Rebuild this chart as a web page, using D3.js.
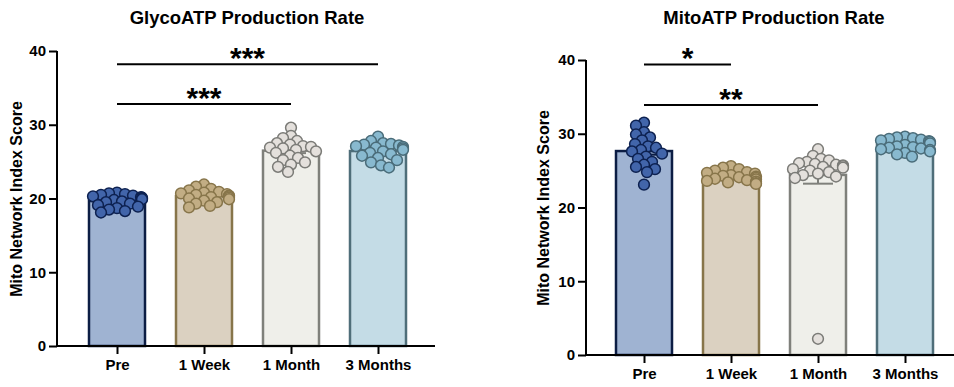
<!DOCTYPE html>
<html lang="en">
	<head>
		<meta charset="utf-8">
		<title>GlycoATP / MitoATP Production Rate</title>
		<style>
			body { margin: 0; background: #fff; }
			svg text { font-family: "Liberation Sans", Arial, Helvetica, sans-serif; font-weight: bold; fill: #000; }
		</style>
	</head>
	<body>
		<div id="chart"></div>
		<script src="https://d3js.org/d3.v7.js"></script>
		<script>

			var groups = ["Pre", "1 Week", "1 Month", "3 Months"]
			var yTicks = [0, 10, 20, 30, 40]

			// GlycoATP panel, one array per group
			var glycoPre = [20.8,20.7,20.6,20.5,20.4,20.3,20.2,20.1,20.0,19.9,19.8,19.6,19.5,19.3,19.1,18.9,18.7,18.5,18.3,18.1]
			var glycoWeek = [21.9,21.6,21.3,21.1,20.9,20.8,20.7,20.6,20.5,20.4,20.3,20.2,20.1,20.0,19.9,19.7,19.5,19.3,19.0,18.8]
			var glycoMonth = [29.6,28.5,28.2,27.8,27.5,27.3,27.1,27.0,26.9,26.8,26.6,26.4,26.2,25.8,25.5,25.2,24.9,24.6,24.3,23.6]
			var glyco3Month = [28.4,27.8,27.5,27.4,27.3,27.2,27.1,27.0,26.9,26.8,26.6,26.4,26.2,26.0,25.8,25.5,25.2,24.9,24.5,24.2]

			// MitoATP panel
			var mitoPre = [31.5,31.1,30.2,29.9,29.5,29.1,28.6,28.3,28.1,27.8,27.6,27.3,26.9,26.6,26.2,25.8,25.5,25.2,24.8,23.1]
			var mitoWeek = [25.6,25.4,25.2,25.0,24.8,24.7,24.6,24.4,24.3,24.2,24.1,24.0,23.9,23.8,23.7,23.6,23.5,23.4,23.3,23.2]
			var mitoMonth = [27.9,27.0,26.6,26.4,26.2,26.0,25.9,25.8,25.7,25.6,25.5,25.4,25.2,25.0,24.8,24.6,24.4,24.2,24.0,2.2]
			var mito3Month = [29.6,29.5,29.4,29.3,29.2,29.1,29.0,28.9,28.7,28.5,28.3,28.2,28.1,28.0,27.9,27.8,27.6,27.4,27.2,26.9]

			// significance brackets: from group, to group, height (axis units), label
			var glycoSig = [["Pre", "3 Months", 38.2, "***"], ["Pre", "1 Month", 32.8, "***"]]
			var mitoSig = [["Pre", "1 Week", 39.4, "*"], ["Pre", "1 Month", 33.9, "**"]]

			var barFill = ["#9fb3d2", "#dbd1c1", "#efefea", "#c4dce6"]
			var barStroke = ["#0c1d44", "#87754a", "#7f807b", "#4f6e79"]
			var dotFill = ["#4265aa", "#c2ad84", "#e4e0dc", "#88b9cf"]
			var dotStroke = ["#0d2150", "#87754a", "#7b7b77", "#4a6c79"]

			var W = 954, H = 387

			var svg = d3.select("#chart").append("svg")
				.attr("width", W).attr("height", H)

			// simple swarm so dots sit side by side like the prism scatter
			function swarm(values, y, r, maxOff) {
				var placed = []
				var sorted = values.map(function(v, i) { return {v: v, y: y(v)} })
				sorted.sort(function(a, b) { return b.v - a.v })
				var minD = r * 1.45
				sorted.forEach(function(p) {
					var best = 0
					for (var k = 0; k < 60; k++) {
						var off = (k % 2 == 0 ? 1 : -1) * Math.ceil(k / 2) * 1.0
						if (Math.abs(off) > maxOff) continue
						var ok = placed.every(function(q) {
							var dx = q.dx - off, dy = q.y - p.y
							return dx * dx + dy * dy >= minD * minD
						})
						if (ok) { best = off; break }
						best = off
					}
					p.dx = best
					placed.push(p)
				})
				return placed
			}

			function panel(opt) {
				var g = svg.append("g")

				var y = d3.scaleLinear().domain([0, 40]).range([opt.y0, opt.y40])
				var x = d3.scalePoint().domain(groups).range([opt.xFirst, opt.xFirst + 87 * 3])
				var barW = 56

				// title
				g.append("text")
					.attr("x", opt.titleX).attr("y", 24)
					.attr("text-anchor", "middle")
					.style("font-size", "18.5px")
					.text(opt.title)

				// y label
				g.append("text")
					.attr("transform", "translate(" + opt.labelX + "," + opt.labelY + ")rotate(-90)")
					.attr("text-anchor", "middle")
					.style("font-size", "16px")
					.text("Mito Network Index Score")

				opt.data.forEach(function(vals, i) {
					var name = groups[i]
					var mean = d3.mean(vals)
					var sem = d3.deviation(vals) / Math.sqrt(vals.length)
					var cx = x(name)

					g.append("rect")
						.attr("x", cx - barW / 2)
						.attr("y", y(mean))
						.attr("width", barW)
						.attr("height", y(0) - y(mean))
						.attr("fill", barFill[i])
						.attr("stroke", barStroke[i])
						.attr("stroke-width", 2.5)

					// error bar
					g.append("line")
						.attr("x1", cx).attr("x2", cx)
						.attr("y1", y(mean - sem)).attr("y2", y(mean + sem))
						.attr("stroke", barStroke[i]).attr("stroke-width", 2)
					;[mean - sem, mean + sem].forEach(function(v) {
						g.append("line")
							.attr("x1", cx - 15).attr("x2", cx + 15)
							.attr("y1", y(v)).attr("y2", y(v))
							.attr("stroke", barStroke[i]).attr("stroke-width", 2)
					})

					var pts = swarm(vals, y, 5.4, 25)
					g.selectAll(null)
						.data(pts)
						.enter()
						.append("circle")
							.attr("cx", function(d) { return cx + d.dx })
							.attr("cy", function(d) { return d.y })
							.attr("r", 5.4)
							.attr("fill", dotFill[i])
							.attr("stroke", dotStroke[i])
							.attr("stroke-width", 1.5)
				})

				// y axis
				var ya = g.append("g")
					.attr("transform", "translate(" + opt.xAxis + ",0)")
					.call(d3.axisLeft(y).tickValues(yTicks).tickSize(8).tickSizeOuter(0).tickPadding(3))
				ya.selectAll("path, line").attr("stroke", "#000").attr("stroke-width", 2)
				ya.select(".domain").attr("d", "M0," + (y(0) + 1) + "V" + y(40))
				ya.selectAll("text").style("font-size", "15px").attr("font-family", null)

				// x axis
				var xa = g.append("g")
					.attr("transform", "translate(0," + y(0) + ")")
					.call(d3.axisBottom(x).tickSize(8).tickSizeOuter(0).tickPadding(5))
				xa.select(".domain").attr("d", "M" + (opt.xAxis - 1) + ",0H" + opt.xEnd)
				xa.selectAll("path, line").attr("stroke", "#000").attr("stroke-width", 2)
				xa.selectAll("text").style("font-size", "15px").attr("font-family", null)

				// significance
				opt.sig.forEach(function(s) {
					var yy = y(s[2])
					g.append("line")
						.attr("x1", x(s[0])).attr("x2", x(s[1]))
						.attr("y1", yy).attr("y2", yy)
						.attr("stroke", "#000").attr("stroke-width", 2)
					g.append("text")
						.attr("x", (x(s[0]) + x(s[1])) / 2)
						.attr("y", yy + 4)
						.attr("text-anchor", "middle")
						.style("font-size", "30px")
						.text(s[3])
				})
			}

			panel({
				title: "GlycoATP Production Rate", titleX: 247,
				labelX: 21.5, labelY: 199,
				y0: 346, y40: 51, xAxis: 57, xFirst: 117, xEnd: 435,
				data: [glycoPre, glycoWeek, glycoMonth, glyco3Month],
				sig: glycoSig
			})

			panel({
				title: "MitoATP Production Rate", titleX: 774,
				labelX: 549, labelY: 208,
				y0: 355, y40: 60, xAxis: 586, xFirst: 644, xEnd: 960,
				data: [mitoPre, mitoWeek, mitoMonth, mito3Month],
				sig: mitoSig
			})

		</script>
	</body>
</html>
